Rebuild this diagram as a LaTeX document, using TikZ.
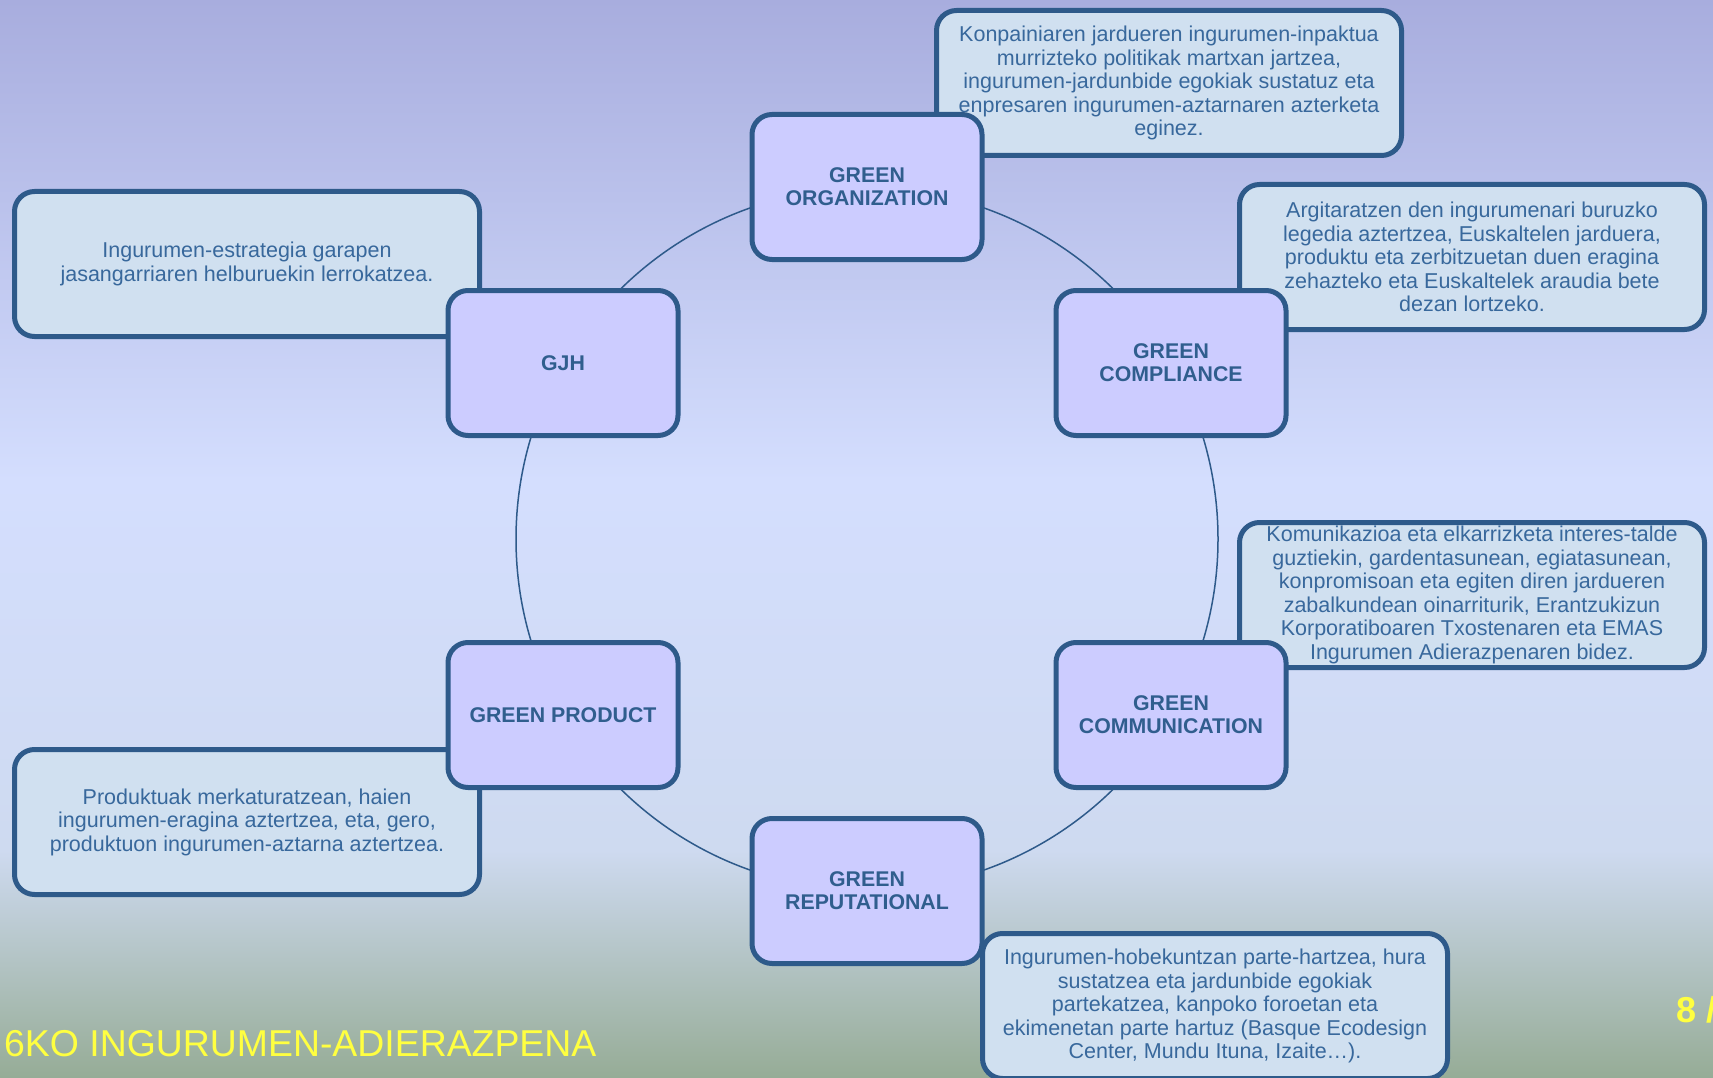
\documentclass[tikz,border=0pt]{standalone}
\usepackage{fontspec}
\setmainfont{Liberation Sans}
\definecolor{bgtop}{RGB}{168,173,222}
\definecolor{bgmid}{RGB}{212,222,254}
\definecolor{bglow}{RGB}{206,218,240}
\definecolor{bgend}{RGB}{150,172,150}
\definecolor{edgeblue}{RGB}{46,90,138}
\definecolor{hubfill}{RGB}{204,204,255}
\definecolor{notefill}{RGB}{208,224,240}
\definecolor{hubtext}{RGB}{48,94,142}
\definecolor{notetext}{RGB}{56,104,156}
\definecolor{slideyellow}{RGB}{255,255,64}

\begin{document}
\begin{tikzpicture}[
        x=1pt, y=-1pt,
        ring/.style={draw=edgeblue, line width=1.5pt}, % cercle du cycle
        hub/.style={draw=edgeblue, line width=5pt, fill=hubfill, rounded corners=20pt,
            minimum width=230pt, minimum height=145pt, inner sep=0pt, align=center,
            text=hubtext, font=\bfseries\fontsize{21.3}{23}\selectfont},
        note/.style={draw=edgeblue, line width=5pt, fill=notefill, rounded corners=20pt,
            minimum width=465pt, minimum height=145pt, inner sep=0pt, align=center,
            text=notetext, font=\fontsize{21.5}{23.5}\selectfont},
        banner/.style={anchor=base west, inner sep=0pt, text=slideyellow},
    ]

    \useasboundingbox (0,0) rectangle (1713,1078);
    % fond
    \shade[top color=bgtop, bottom color=bgmid] (0,0) rectangle (1713,481);
    \shade[top color=bgmid, bottom color=bglow] (0,480) rectangle (1713,851);
    \shade[top color=bglow, bottom color=bgend] (0,850) rectangle (1713,1078);

    \coordinate (hub) at (867,539);
    \draw[ring] (hub) circle[radius=351pt];

    \node[note] (dorg) at (1169,83) {Konpainiaren jardueren ingurumen-inpaktua\\murrizteko politikak martxan jartzea,\\ingurumen-jardunbide egokiak sustatuz eta\\enpresaren ingurumen-aztarnaren azterketa\\eginez.};
    \node[note] (dcomp) at (1472,257) {Argitaratzen den ingurumenari buruzko\\legedia aztertzea, Euskaltelen jarduera,\\produktu eta zerbitzuetan duen eragina\\zehazteko eta Euskaltelek araudia bete\\dezan lortzeko.};
    \node[note] (dcomm) at (1472,595) {Komunikazioa eta elkarrizketa interes-talde\\guztiekin, gardentasunean, egiatasunean,\\konpromisoan eta egiten diren jardueren\\zabalkundean oinarriturik, Erantzukizun\\Korporatiboaren Txostenaren eta EMAS\\Ingurumen Adierazpenaren bidez.};
    \node[note] (drep) at (1215,1006) {Ingurumen-hobekuntzan parte-hartzea, hura\\sustatzea eta jardunbide egokiak\\partekatzea, kanpoko foroetan eta\\ekimenetan parte hartuz (Basque Ecodesign\\Center, Mundu Ituna, Izaite\dots).};
    \node[note] (dgjh) at (247,264) {Ingurumen-estrategia garapen\\jasangarriaren helburuekin lerrokatzea.};
    \node[note] (dprod) at (247,822) {Produktuak merkaturatzean, haien\\ingurumen-eragina aztertzea, eta, gero,\\produktuon ingurumen-aztarna aztertzea.};

    \node[hub] (org) at (867,187) {GREEN\\ORGANIZATION};
    \node[hub] (gjh) at (563,363) {GJH};
    \node[hub] (comp) at (1171,363) {GREEN\\COMPLIANCE};
    \node[hub] (prod) at (563,715) {GREEN PRODUCT};
    \node[hub] (comm) at (1171,715) {GREEN\\COMMUNICATION};
    \node[hub] (rep) at (867,891) {GREEN\\REPUTATIONAL};

    \node[banner, font=\fontsize{37.4}{40}\selectfont] (title) at (4,1056) {6KO INGURUMEN-ADIERAZPENA};
    \node[banner, font=\bfseries\fontsize{36}{40}\selectfont] (pagenum) at (1676,1022) {8 /};
\end{tikzpicture}
\end{document}
